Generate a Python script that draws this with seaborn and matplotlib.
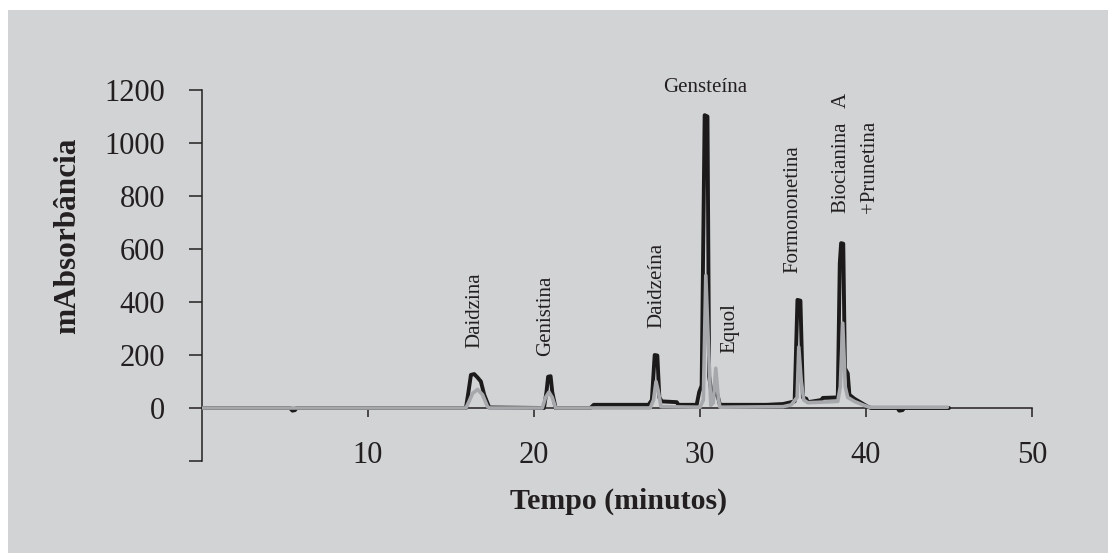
import matplotlib
matplotlib.use("Agg")
import matplotlib.pyplot as plt
import seaborn as sns
import pandas as pd
from matplotlib.patches import Rectangle

# ---- data ----
black_t = [0, 5.3, 5.45, 5.6, 5.7, 15.9, 16.05, 16.2, 16.4, 16.6, 16.8, 17.0, 17.3,
           20.6, 20.75, 20.85, 21.0, 21.1, 21.3, 23.4, 23.6, 26.9, 27.1, 27.27, 27.43,
           27.55, 27.7, 28.6, 28.7, 29.8, 29.95, 30.1, 30.28, 30.45, 30.55, 30.75, 30.9,
           31.05, 31.2, 34.0, 35.0, 35.7, 35.87, 36.05, 36.2, 36.4, 36.5, 37.3, 37.4,
           38.3, 38.42, 38.5, 38.63, 38.73, 38.9, 39.0, 39.3, 39.7, 40.1, 40.3, 41.9,
           42.0, 42.2, 42.3, 45.0]
black_v = [0, 0, -10, -8, 0, 0, 60, 125, 128, 115, 100, 50, 2,
           0, 60, 118, 120, 60, 0, 0, 12, 12, 30, 200, 198,
           40, 25, 22, 12, 12, 60, 85, 1105, 1100, 120, 30, 65,
           50, 12, 12, 15, 25, 408, 405, 40, 35, 22, 30, 38,
           40, 545, 622, 620, 150, 130, 50, 35, 20, 5, 0, 0,
           -10, -8, 0, 0]

gray_t = [0, 15.9, 16.05, 16.3, 16.6, 16.9, 17.2, 17.35, 20.5, 20.7, 20.9, 21.1, 21.3,
          27.0, 27.2, 27.35, 27.5, 27.65, 30.0, 30.2, 30.35, 30.5, 30.65, 30.8, 30.95,
          31.1, 31.2, 35.0, 35.5, 35.85, 35.95, 36.1, 36.25, 36.5, 37.3, 38.3, 38.45,
          38.6, 38.75, 38.9, 39.3, 39.8, 40.2, 44.9]
gray_v = [0, 0, 20, 55, 70, 50, 5, 0, 0, 40, 60, 40, 0,
          0, 30, 100, 60, 5, 3, 30, 500, 250, 10, 20, 150,
          40, 3, 5, 12, 40, 230, 100, 30, 20, 22, 25, 80,
          320, 80, 40, 25, 12, 3, 3]

peak_names = ["Daidzina", "Genistina", "Daidzeína", "Equol", "Formononetina",
              "Biocianina   A", "+Prunetina"]
peak_label_t = [16.45, 20.72, 27.4, 31.8, 35.6, 38.55, 40.24]
peak_label_v = [226, 195, 302, 208, 509, 736, 736]
top_name = "Gensteína"
top_t, top_v = 30.3, 1192

x_ticks = [10, 20, 30, 40, 50]
y_ticks = [-200, 0, 200, 400, 600, 800, 1000, 1200]
y_tick_labels = ["", "0", "200", "400", "600", "800", "1000", "1200"]

# ---- style ----
sns.set_theme(style="ticks")
plt.rcParams["font.family"] = ["Liberation Serif", "DejaVu Serif"]
BG = "#d1d3d4"
INK = "#231f20"
BLACK = "#1c1a1b"
GRAY = "#a6a8ab"

fig = plt.figure(figsize=(11.08, 5.53), dpi=100, facecolor="white")
bg = Rectangle((8 / 1108, 0), 1, (553 - 10) / 553, transform=fig.transFigure,
               facecolor=BG, edgecolor="none", zorder=-10)
fig.add_artist(bg)
ax = fig.add_axes([202 / 1108, 1 - 461 / 553, 830 / 1108, 371 / 553])
ax.patch.set_alpha(0)
ax.set_zorder(1)

df_b = pd.DataFrame({"t": black_t, "v": black_v})
df_g = pd.DataFrame({"t": gray_t, "v": gray_v})
sns.lineplot(data=df_b, x="t", y="v", ax=ax, color=BLACK, lw=2.8,
             estimator=None, sort=False, zorder=2)
sns.lineplot(data=df_g, x="t", y="v", ax=ax, color=GRAY, lw=2.6,
             estimator=None, sort=False, zorder=3)

ax.set_xlim(0, 50)
ax.set_ylim(-200, 1200)
ax.spines["top"].set_visible(False)
ax.spines["right"].set_visible(False)
ax.spines["bottom"].set_position(("data", 0))
for s in ("left", "bottom"):
    ax.spines[s].set_color(INK)
    ax.spines[s].set_linewidth(1.1)

ax.set_xticks(x_ticks)
ax.set_xticklabels([str(v) for v in x_ticks])
ax.set_yticks(y_ticks)
ax.set_yticklabels(y_tick_labels)
ax.tick_params(axis="y", direction="out", length=9.4, width=1.1, color=INK,
               pad=17, labelsize=22, labelcolor=INK)
ax.tick_params(axis="x", direction="out", length=6.5, width=1.1, color=INK,
               pad=17, labelsize=22, labelcolor=INK)

ax.set_xlabel("Tempo (minutos)", fontsize=21.5, fontweight="bold", color=INK)
ax.xaxis.set_label_coords((619 - 202) / 830, (461 - 488) / 371)
ax.xaxis.label.set_va("top")
ax.set_ylabel("mAbsorbância", fontsize=22.5, fontweight="bold", color=INK)
ax.yaxis.set_label_coords((82 - 202) / 830, (461 - 236) / 371)

for name, t, v in zip(peak_names, peak_label_t, peak_label_v):
    ax.text(t, v, name, rotation=90, ha="center", va="bottom", fontsize=15,
            color=INK)
ax.text(top_t, top_v, top_name, ha="center", va="baseline", fontsize=15,
        color=INK)

fig.savefig("out.png", dpi=100, facecolor="white")
